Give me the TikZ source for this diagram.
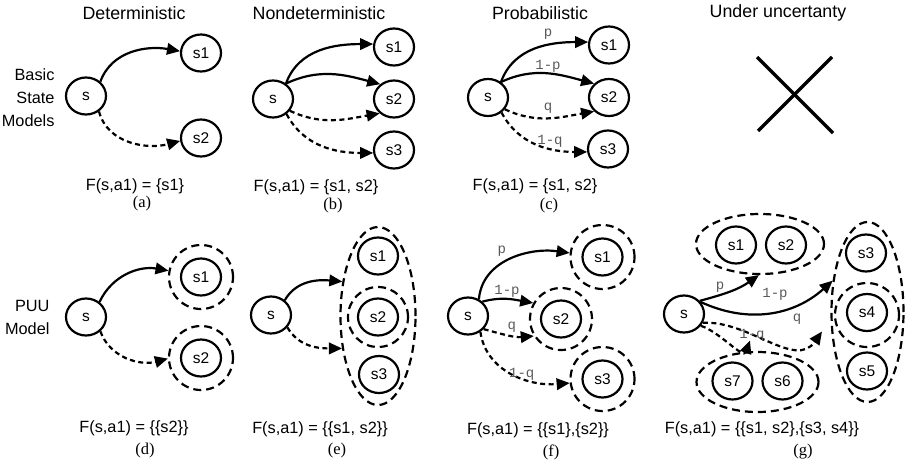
\documentclass[tikz,border=0pt]{standalone}
\usepackage{fontspec}
\setmainfont{Liberation Serif}
\setsansfont{Liberation Sans}
\setmonofont{Liberation Mono}
\usetikzlibrary{arrows.meta,shapes.geometric}

\tikzset{
  st/.style={draw, ellipse, line width=2.2pt, minimum width=40pt, minimum height=37pt,
             inner sep=0pt, font=\sffamily\fontsize{15.5}{16}\selectfont},
  ring/.style={draw, circle, line width=2.2pt, dash pattern=on 8pt off 5pt, inner sep=0pt},
  grp/.style={draw, ellipse, line width=2.2pt, dash pattern=on 8pt off 5pt, inner sep=0pt},
  arr/.style={-{Triangle[length=13pt,width=11.5pt]}, line width=2.2pt},
  darr/.style={arr, dash pattern=on 5pt off 3.5pt},
  coltitle/.style={font=\sffamily\fontsize{17.8}{18}\selectfont},
  rowlbl/.style={font=\sffamily\fontsize{16.3}{23}\selectfont, align=right, anchor=east},
  captxt/.style={font=\sffamily\fontsize{16.3}{17}\selectfont},
  subtag/.style={font=\rmfamily\fontsize{16.5}{17}\selectfont},
  prob/.style={font=\ttfamily\fontsize{14}{14}\selectfont, text=black!65},
}

\begin{document}
\begin{tikzpicture}[x=1pt,y=-1pt]
\useasboundingbox (0,0) rectangle (906,464);

% column titles
\node[coltitle] (t1) at (134,13) {Deterministic};
\node[coltitle] (t2) at (319,13) {Nondeterministic};
\node[coltitle] (t3) at (540,13) {Probabilistic};
\node[coltitle] (t4) at (778,13) {Under uncertanty};

% row labels
\node[rowlbl] (r1) at (58,98) {Basic\\State\\Models};
\node[rowlbl] (r2) at (53,317) {PUU\\Model};

% ---------- (a) deterministic ----------
\node[st] (sa) at (86,96) {s};
\node[st] (a1) at (201,53) {s1};
\node[st] (a2) at (201,138) {s2};
\draw[arr]  (sa.45)  to[out=70,in=170]  (a1.175);
\draw[darr] (sa.-50) to[out=-75,in=195] (a2.188);
\node[captxt] (ca) at (135,186) {F(s,a1) = \{s1\}};
\node[subtag] (la) at (142,204) {(a)};

% ---------- (b) nondeterministic ----------
\node[st] (sb) at (273,99) {s};
\node[st] (b1) at (394,47) {s1};
\node[st] (b2) at (394,99) {s2};
\node[st] (b3) at (394,150) {s3};
\draw[arr]  (sb.50)  to[out=70,in=180]  (b1.172);
\draw[arr]  (sb.50)  to[out=25,in=165]  (b2.133);
\draw[darr] (sb.-35) to[out=-25,in=190] (b2.225);
\draw[darr] (sb.-48) to[out=-62,in=180] (b3.188);
\node[captxt] (cb) at (316,187) {F(s,a1) = \{s1, s2\}};
\node[subtag] (lb) at (333,206) {(b)};

% ---------- (c) probabilistic ----------
\node[st] (sc) at (488,97.5) {s};
\node[st] (c1) at (609,45) {s1};
\node[st] (c2) at (609,97.5) {s2};
\node[st] (c3) at (608,149) {s3};
\draw[arr]  (sc.50)  to[out=70,in=180]  (c1.172);
\draw[arr]  (sc.50)  to[out=25,in=165]  (c2.137);
\draw[darr] (sc.-35) to[out=-25,in=190] (c2.223);
\draw[darr] (sc.-48) to[out=-62,in=180] (c3.188);
\node[prob] (pc1) at (548,34) {p};
\node[prob] (pc2) at (548,66) {1-p};
\node[prob] (pc3) at (548,108) {q};
\node[prob] (pc4) at (550,141) {1-q};
\node[captxt] (cc) at (535,186) {F(s,a1) = \{s1, s2\}};
\node[subtag] (lc) at (549,206) {(c)};

% ---------- under uncertainty: not applicable ----------
\draw[line width=3.4pt] (757,57) -- (833,133);
\draw[line width=3.4pt] (832,57) -- (758,131);

% ---------- (d) PUU deterministic ----------
\node[st] (sd) at (86,317) {s};
\node[st] (d1) at (201,277) {s1};
\node[ring, minimum size=64pt] (d1r) at (201,277) {};
\node[st] (d2) at (201,358) {s2};
\node[ring, minimum size=64pt] (d2r) at (201,358) {};
\draw[arr]  (sd.48)  to[out=65,in=170]  (d1r.169);
\draw[darr] (sd.-45) to[out=-70,in=195] (d2r.181);
\node[captxt] (cd) at (134,428) {F(s,a1) = \{\{s2\}\}};
\node[subtag] (ld) at (145,451) {(d)};

% ---------- (e) PUU nondeterministic ----------
\node[st] (se) at (271,315) {s};
\node[grp, minimum width=75pt, minimum height=178pt] (E) at (378,316) {};
\node[st] (e1) at (378,256) {s1};
\node[st] (e2) at (378,317) {s2};
\node[ring, minimum size=60pt] (e2r) at (378,317) {};
\node[st] (e3) at (379,374.5) {s3};
\draw[arr]  (se.47)  to[out=60,in=175]  (E.136);
\draw[darr] (se.-37) to[out=-60,in=180] (E.222);
\node[captxt] (ce) at (320,429) {F(s,a1) = \{\{s1, s2\}\}};
\node[subtag] (le) at (337,451) {(e)};

% ---------- (f) PUU probabilistic ----------
\node[st] (sf) at (468,316) {s};
\node[st] (f1) at (602.5,257) {s1};
\node[ring, minimum size=64pt] (f1r) at (602.5,257) {};
\node[st] (f2) at (561,319) {s2};
\node[ring, minimum size=62pt] (f2r) at (561,319) {};
\node[st] (f3) at (602.5,379) {s3};
\node[ring, minimum size=64pt] (f3r) at (602.5,379) {};
\draw[arr]  (sf.57)  to[out=85,in=172]  (f1r.173);
\draw[arr]  (sf.45)  to[out=15,in=170]  (f2r.150);
\draw[darr] (sf.-40) to[out=-15,in=185] (f2r.212);
\draw[darr] (sf.-52) to[out=-82,in=185] (f3r.187);
\node[prob] (pf1) at (501.7,251) {p};
\node[prob] (pf2) at (507,291) {1-p};
\node[prob] (pf3) at (511.7,327) {q};
\node[prob] (pf4) at (521.7,374) {1-q};
\node[captxt] (cf) at (538,430) {F(s,a1) = \{\{s1\},\{s2\}\}};
\node[subtag] (lf) at (551,452) {(f)};

% ---------- (g) PUU under uncertainty ----------
\node[grp, minimum width=128pt, minimum height=60pt] (GA) at (760,244) {};
\node[st] (g1) at (736,245) {s1};
\node[st] (g2) at (786,245) {s2};
\node[grp, minimum width=72pt, minimum height=180pt] (GB) at (867.5,312) {};
\node[st] (g3) at (866,253) {s3};
\node[st] (g4) at (867,312.5) {s4};
\node[ring, minimum size=64pt] (g4r) at (867,315) {};
\node[st] (g5) at (867,371) {s5};
\node[grp, minimum width=122pt, minimum height=60pt] (GC) at (757.5,382) {};
\node[st] (g7) at (732.5,381) {s7};
\node[st] (g6) at (782.5,381) {s6};
\node[st] (sg) at (684,314) {s};
\coordinate (qend) at (822,331.5);
\coordinate (qqend) at (750,340.5);
\draw[arr]  (sg.40)  to[out=15,in=215]  (GA.268);
\draw[arr]  (sg.36)  to[out=-25,in=222] (GB.138);
\draw[darr] (sg.-25) to[out=3,in=235]   (qend);
\draw[darr] (sg.-35) to[out=-18,in=250] (qqend);
\node[prob] (pg1) at (720,287) {p};
\node[prob] (pg2) at (775,294) {1-p};
\node[prob] (pg3) at (797,319) {q};
\node[prob] (pg4) at (752,335) {1-q};
\node[captxt] (cg) at (762,429) {F(s,a1) = \{\{s1, s2\},\{s3, s4\}\}};
\node[subtag] (lg) at (803,452) {(g)};
\end{tikzpicture}
\end{document}
